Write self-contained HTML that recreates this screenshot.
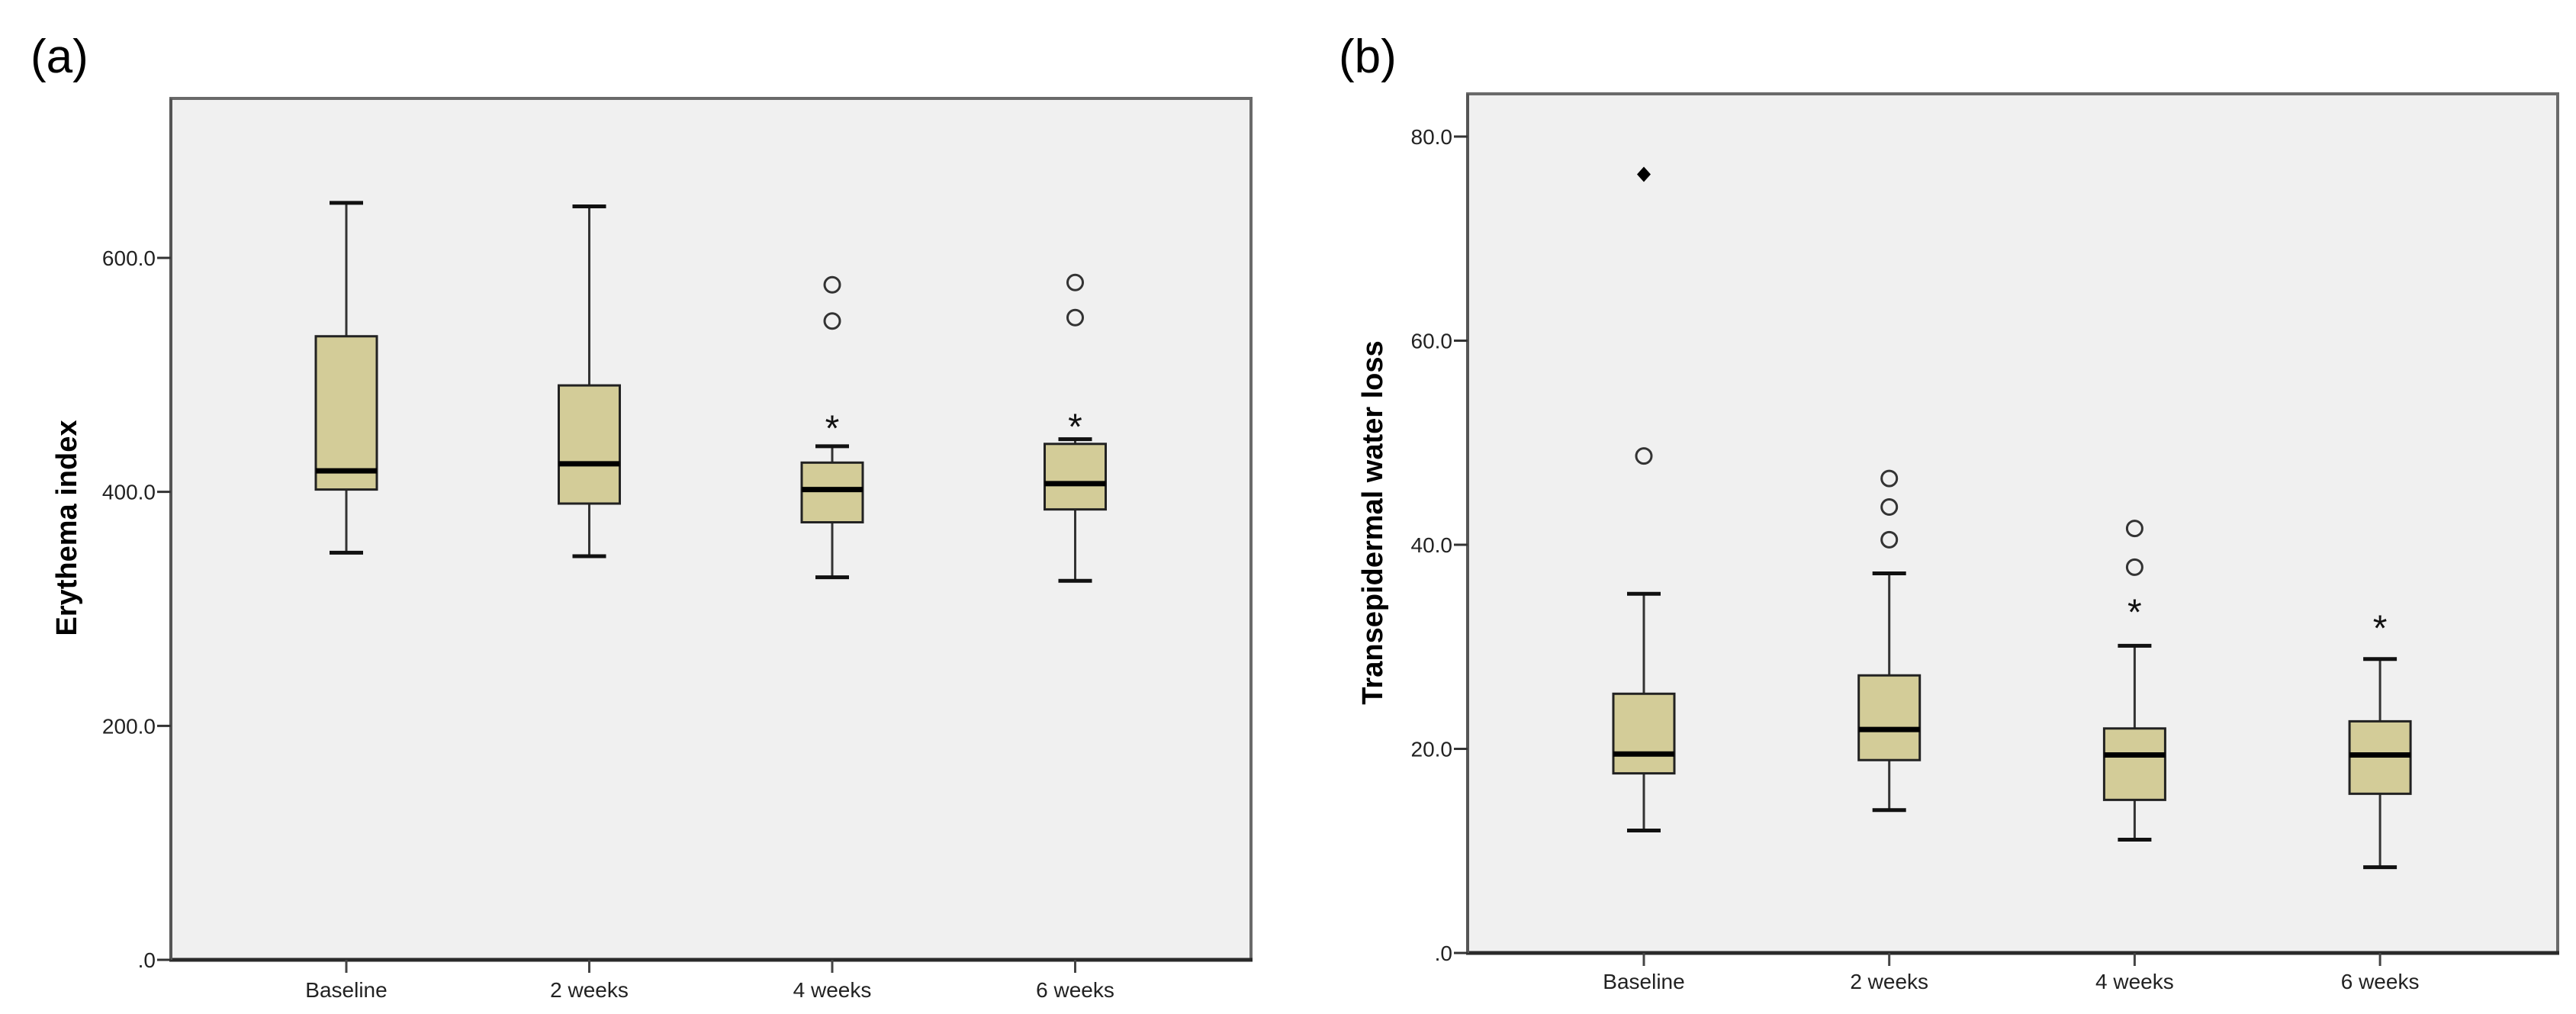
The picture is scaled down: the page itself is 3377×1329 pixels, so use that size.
<!DOCTYPE html>
<html><head><meta charset="utf-8">
<style>
html,body{margin:0;padding:0;background:#fff;width:3377px;height:1329px;overflow:hidden}
svg text{font-family:"Liberation Sans",sans-serif}
</style></head>
<body>
<svg id="fig" width="3377" height="1329" viewBox="0 0 3377 1329" xmlns="http://www.w3.org/2000/svg">
<text x="40" y="95" font-size="62">(a)</text>
<text x="1755" y="95" font-size="62">(b)</text>
<g id="pa"></g>
<g id="pb"></g>
</svg>
<script>
const categories = ["Baseline", "2 weeks", "4 weeks", "6 weeks"];
// Panel a: Erythema index
const aLow = [348, 345, 327, 324];
const aQ1 = [402, 390, 374, 385];
const aMed = [418, 424, 402, 407];
const aQ3 = [533, 491, 425, 441];
const aHigh = [647, 644, 439, 445];
const aOutliers = [[], [], [577, 546], [579, 549]];
const aExtremes = [[], [], [457], [458]];
const aDiamonds = [[], [], [], []];
const aTicks = [0, 200, 400, 600];
const aTickLabels = [".0", "200.0", "400.0", "600.0"];
// Panel b: Transepidermal water loss
const bLow = [12.0, 14.0, 11.1, 8.4];
const bQ1 = [17.6, 18.9, 15.0, 15.6];
const bMed = [19.5, 21.9, 19.4, 19.4];
const bQ3 = [25.4, 27.2, 22.0, 22.7];
const bHigh = [35.2, 37.2, 30.1, 28.8];
const bOutliers = [[48.7], [46.5, 43.7, 40.5], [41.6, 37.8], []];
const bExtremes = [[], [], [33.7], [32.1]];
const bDiamonds = [[76.3], [], [], []];
const bTicks = [0, 20, 40, 60, 80];
const bTickLabels = [".0", "20.0", "40.0", "60.0", "80.0"];

const NS = "http://www.w3.org/2000/svg";
function mk(parent, tag, attrs, text) {
  const e = document.createElementNS(NS, tag);
  for (const k in attrs) e.setAttribute(k, attrs[k]);
  if (text !== undefined) e.textContent = text;
  parent.appendChild(e);
  return e;
}

function drawPanel(g, cfg) {
  const {L, T, R, B, x0, dx, ymax, yOf, title, titleX, titleY, low, q1, med, q3, high, outs, exts, dias, ticks, tlabels, labelY} = cfg;
  const y = v => B - (v / ymax) * (B - yOf);
  const x = i => x0 + i * dx;
  const bg = mk(g, "rect", {x: L, y: T, width: R - L, height: B - T, fill: "#f0f0f0", stroke: "none"});
  
  
  const fr = mk(g, "path", {d: `M${L},${B} L${L},${T} L${R},${T} L${R},${B}`, fill: "none", stroke: "#6a6a6a", "stroke-width": 4});
  
  
  const xa = mk(g, "line", {x1: L - 2, y1: B, x2: R + 2, y2: B, stroke: "#2a2a2a", "stroke-width": 5});
  
  
  const ya = mk(g, "line", {x1: L, y1: T, x2: L, y2: B, stroke: "#555", "stroke-width": 4});
  
  
  ticks.forEach((t, i) => {
    const yy = y(t);
    const tk = mk(g, "line", {x1: L - 18, y1: yy, x2: L, y2: yy, stroke: "#333", "stroke-width": 3});
    
    
    const tl = mk(g, "text", {x: L - 20, y: yy + 10, "font-size": 28, "text-anchor": "end", fill: "#222"}, tlabels[i]);
    
    
  });
  const yt = mk(g, "text", {x: titleX, y: titleY, "font-size": 38, "font-weight": "bold", "text-anchor": "middle", transform: `rotate(-90 ${titleX} ${titleY})`}, title);
  
  
  categories.forEach((c, i) => {
    const cx = x(i);
    const tk = mk(g, "line", {x1: cx, y1: B, x2: cx, y2: B + 17, stroke: "#444", "stroke-width": 3});
    
    
    const tl = mk(g, "text", {x: cx, y: labelY, "font-size": 28, "text-anchor": "middle", fill: "#222"}, c);
    
    
    const w = mk(g, "line", {x1: cx, y1: y(high[i]), x2: cx, y2: y(low[i]), stroke: "#333", "stroke-width": 3});
    
    
    [high[i], low[i]].forEach(v => {
      const cp = mk(g, "line", {x1: cx - 22, y1: y(v), x2: cx + 22, y2: y(v), stroke: "#111", "stroke-width": 5});
      
      
    });
    const bx = mk(g, "rect", {x: cx - 40, y: y(q3[i]), width: 80, height: y(q1[i]) - y(q3[i]), fill: "#d3cc98", stroke: "#222", "stroke-width": 3});
    
    
    const md = mk(g, "line", {x1: cx - 40, y1: y(med[i]), x2: cx + 40, y2: y(med[i]), stroke: "#000", "stroke-width": 7});
    
    
    outs[i].forEach(v => {
      const o = mk(g, "circle", {cx: cx, cy: y(v), r: 10, fill: "none", stroke: "#333", "stroke-width": 3});
      
      
    });
    exts[i].forEach(v => {
      const s = mk(g, "text", {x: cx, y: y(v) + 20, "font-size": 48, "text-anchor": "middle", fill: "#111"}, "*");
      
      
    });
    dias[i].forEach(v => {
      const yy = y(v);
      const d = mk(g, "path", {d: `M${cx},${yy - 10} L${cx + 9},${yy} L${cx},${yy + 10} L${cx - 9},${yy} Z`, fill: "#000"});
      
      
    });
  });
}

drawPanel(document.getElementById("pa"), {
  L: 224, T: 129, R: 1640, B: 1258, x0: 454, dx: 318.5, ymax: 600, yOf: 338,
  title: "Erythema index", titleX: 100, titleY: 692,
  low: aLow, q1: aQ1, med: aMed, q3: aQ3, high: aHigh, outs: aOutliers, exts: aExtremes, dias: aDiamonds,
  ticks: aTicks, tlabels: aTickLabels, labelY: 1307
});
drawPanel(document.getElementById("pb"), {
  L: 1924, T: 123, R: 3353, B: 1249, x0: 2155, dx: 321.7, ymax: 80, yOf: 179,
  title: "Transepidermal water loss", titleX: 1812, titleY: 685,
  low: bLow, q1: bQ1, med: bMed, q3: bQ3, high: bHigh, outs: bOutliers, exts: bExtremes, dias: bDiamonds,
  ticks: bTicks, tlabels: bTickLabels, labelY: 1296
});
</script>
</body></html>
